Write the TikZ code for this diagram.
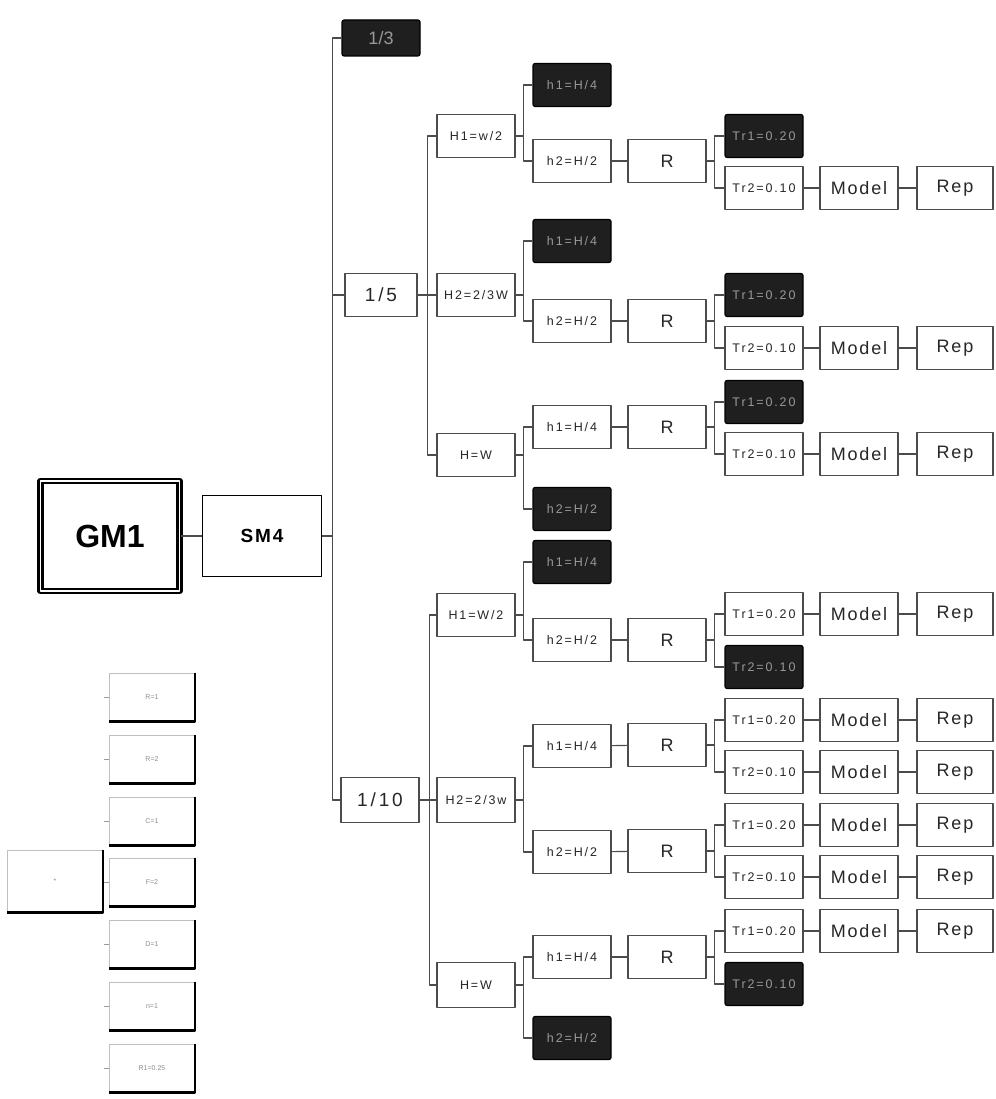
\documentclass[tikz,border=0pt]{standalone}
\usepackage{fontspec}
\setmainfont{Liberation Sans}
\newfontfamily\spacedfont[LetterSpace=15]{Liberation Sans}
\newfontfamily\widefont[LetterSpace=10]{Liberation Sans}

\tikzset{
  box/.style={draw=black!70, line width=1.1pt, fill=white, text=black!85,
    minimum width=78, minimum height=43, inner sep=0pt,
    font=\spacedfont\fontsize{12.5}{15}\selectfont},
  bigbox/.style={box, font=\widefont\fontsize{18}{22}\selectfont},
  ratiobox/.style={box, font=\spacedfont\fontsize{19}{23}\selectfont},
  cutbox/.style={box, draw=black, fill=black!88, text=black!40, rounded corners=2pt},
  link/.style={draw=black!70, line width=1.1pt},
  keybox/.style={draw=black!25, line width=0.6pt, minimum width=85, minimum height=48,
    inner sep=0pt, text=black!45, font=\fontsize{7}{8}\selectfont},
  keyedge/.style={line width=2.6pt, line cap=butt},
  stub/.style={draw=black!40, line width=0.6pt}
}

\begin{document}
\begin{tikzpicture}[x=1pt, y=-1pt, line join=round]

  %% ════ root and ratios ════
  \node[draw=black, line width=2.6pt, double, double distance=1.6pt, minimum width=139, minimum height=110,
        font=\bfseries\fontsize{32}{38}\selectfont] (gm1) at (110,536) {GM1};
  \node[draw=black, line width=1.6pt, minimum width=119, minimum height=81,
        font=\widefont\bfseries\fontsize{19}{23}\selectfont] (sm4) at (262,536) {SM4};
  \node[cutbox, minimum height=36, font=\fontsize{18}{22}\selectfont] (r3) at (381,38) {1/3};
  \node[ratiobox, minimum width=72] (r5) at (381,295) {1/5};
  \node[ratiobox, minimum height=45] (r10) at (380,800) {1/10};

  %% ════ 1/5 branch ════
  \node[box] (a1) at (476,136) {H1=w/2};
  \node[box] (a2) at (476,295) {H2=2/3W};
  \node[box] (a3) at (476,455) {H=W};

  \node[cutbox] (a1h1) at (572,85) {h1=H/4};
  \node[box] (a1h2) at (572,161) {h2=H/2};
  \node[cutbox] (a2h1) at (572,241) {h1=H/4};
  \node[box] (a2h2) at (572,321) {h2=H/2};
  \node[box] (a3h1) at (572,427) {h1=H/4};
  \node[cutbox] (a3h2) at (572,509) {h2=H/2};

  \node[bigbox] (a1r) at (667,161) {R};
  \node[bigbox] (a2r) at (667,321) {R};
  \node[bigbox] (a3r) at (667,427) {R};

  \node[cutbox] (a1t1) at (764,136) {Tr1=0.20};
  \node[box] (a1t2) at (764,188) {Tr2=0.10};
  \node[cutbox] (a2t1) at (764,295) {Tr1=0.20};
  \node[box] (a2t2) at (764,348) {Tr2=0.10};
  \node[cutbox] (a3t1) at (764,402) {Tr1=0.20};
  \node[box] (a3t2) at (764,454) {Tr2=0.10};

  \node[bigbox] (a1m) at (859,188) {Model};
  \node[bigbox] (a2m) at (859,348) {Model};
  \node[bigbox] (a3m) at (859,454) {Model};
  \node[bigbox, minimum width=76] (a1p) at (955,188) {Rep};
  \node[bigbox, minimum width=76] (a2p) at (955,348) {Rep};
  \node[bigbox, minimum width=76] (a3p) at (955,454) {Rep};

  %% ════ 1/10 branch ════
  \node[box] (b1) at (476,615) {H1=W/2};
  \node[box, minimum height=45] (b2) at (476,800) {H2=2/3w};
  \node[box, minimum height=45] (b3) at (476,985) {H=W};

  \node[cutbox] (b1h1) at (572,562) {h1=H/4};
  \node[box] (b1h2) at (572,640) {h2=H/2};
  \node[box] (b2h1) at (572,746) {h1=H/4};
  \node[box] (b2h2) at (572,852) {h2=H/2};
  \node[box] (b3h1) at (572,957) {h1=H/4};
  \node[cutbox] (b3h2) at (572,1038) {h2=H/2};

  \node[bigbox] (b1r) at (667,640) {R};
  \node[bigbox] (b2r1) at (667,745) {R};
  \node[bigbox] (b2r2) at (667,851) {R};
  \node[bigbox] (b3r) at (667,957) {R};

  \node[box] (b1t1) at (764,614) {Tr1=0.20};
  \node[cutbox] (b1t2) at (764,667) {Tr2=0.10};
  \node[box] (b2t1) at (764,720) {Tr1=0.20};
  \node[box] (b2t2) at (764,772) {Tr2=0.10};
  \node[box] (b2t3) at (764,825) {Tr1=0.20};
  \node[box] (b2t4) at (764,877) {Tr2=0.10};
  \node[box] (b3t1) at (764,931) {Tr1=0.20};
  \node[cutbox] (b3t2) at (764,984) {Tr2=0.10};

  \node[bigbox] (b1m) at (859,614) {Model};
  \node[bigbox] (b2m1) at (859,720) {Model};
  \node[bigbox] (b2m2) at (859,772) {Model};
  \node[bigbox] (b2m3) at (859,825) {Model};
  \node[bigbox] (b2m4) at (859,877) {Model};
  \node[bigbox] (b3m) at (859,931) {Model};
  \node[bigbox, minimum width=76] (b1p) at (955,614) {Rep};
  \node[bigbox, minimum width=76] (b2p1) at (955,720) {Rep};
  \node[bigbox, minimum width=76] (b2p2) at (955,772) {Rep};
  \node[bigbox, minimum width=76] (b2p3) at (955,825) {Rep};
  \node[bigbox, minimum width=76] (b2p4) at (955,877) {Rep};
  \node[bigbox, minimum width=76] (b3p) at (955,931) {Rep};

  %% ════ connectors ════
  \draw[link] (gm1.east) -- (sm4.west);
  \draw[link] (sm4.east) -- ++(10,0) |- (r3.west);
  \draw[link] (sm4.east) -- ++(10,0) |- (r5.west);
  \draw[link] (sm4.east) -- ++(10,0) |- (r10.west);

  \draw[link] (r5.east) -- ++(10,0) |- (a1.west);
  \draw[link] (r5.east) -- ++(10,0) |- (a2.west);
  \draw[link] (r5.east) -- ++(10,0) |- (a3.west);
  \draw[link] (a1.east) -- ++(8,0) |- (a1h1.west);
  \draw[link] (a1.east) -- ++(8,0) |- (a1h2.west);
  \draw[link] (a2.east) -- ++(8,0) |- (a2h1.west);
  \draw[link] (a2.east) -- ++(8,0) |- (a2h2.west);
  \draw[link] (a3.east) -- ++(8,0) |- (a3h1.west);
  \draw[link] (a3.east) -- ++(8,0) |- (a3h2.west);
  \draw[link] (a1h2) -- (a1r);
  \draw[link] (a2h2) -- (a2r);
  \draw[link] (a3h1) -- (a3r);
  \draw[link] (a1r.east) -- ++(8,0) |- (a1t1.west);
  \draw[link] (a1r.east) -- ++(8,0) |- (a1t2.west);
  \draw[link] (a2r.east) -- ++(8,0) |- (a2t1.west);
  \draw[link] (a2r.east) -- ++(8,0) |- (a2t2.west);
  \draw[link] (a3r.east) -- ++(8,0) |- (a3t1.west);
  \draw[link] (a3r.east) -- ++(8,0) |- (a3t2.west);
  \draw[link] (a1t2) -- (a1m) -- (a1p);
  \draw[link] (a2t2) -- (a2m) -- (a2p);
  \draw[link] (a3t2) -- (a3m) -- (a3p);

  \draw[link] (r10.east) -- ++(10,0) |- (b1.west);
  \draw[link] (r10.east) -- ++(10,0) |- (b2.west);
  \draw[link] (r10.east) -- ++(10,0) |- (b3.west);
  \draw[link] (b1.east) -- ++(8,0) |- (b1h1.west);
  \draw[link] (b1.east) -- ++(8,0) |- (b1h2.west);
  \draw[link] (b2.east) -- ++(8,0) |- (b2h1.west);
  \draw[link] (b2.east) -- ++(8,0) |- (b2h2.west);
  \draw[link] (b3.east) -- ++(8,0) |- (b3h1.west);
  \draw[link] (b3.east) -- ++(8,0) |- (b3h2.west);
  \draw[link] (b1h2) -- (b1r);
  \draw[link] (b2h1) -- (b2r1);
  \draw[link] (b2h2) -- (b2r2);
  \draw[link] (b3h1) -- (b3r);
  \draw[link] (b1r.east) -- ++(8,0) |- (b1t1.west);
  \draw[link] (b1r.east) -- ++(8,0) |- (b1t2.west);
  \draw[link] (b2r1.east) -- ++(8,0) |- (b2t1.west);
  \draw[link] (b2r1.east) -- ++(8,0) |- (b2t2.west);
  \draw[link] (b2r2.east) -- ++(8,0) |- (b2t3.west);
  \draw[link] (b2r2.east) -- ++(8,0) |- (b2t4.west);
  \draw[link] (b3r.east) -- ++(8,0) |- (b3t1.west);
  \draw[link] (b3r.east) -- ++(8,0) |- (b3t2.west);
  \draw[link] (b1t1) -- (b1m) -- (b1p);
  \draw[link] (b2t1) -- (b2m1) -- (b2p1);
  \draw[link] (b2t2) -- (b2m2) -- (b2p2);
  \draw[link] (b2t3) -- (b2m3) -- (b2p3);
  \draw[link] (b2t4) -- (b2m4) -- (b2p4);
  \draw[link] (b3t1) -- (b3m) -- (b3p);

  %% ════ key (bottom left) ════
  \node[keybox, minimum width=95, minimum height=62] (k0) at (55,881) {*};
  \node[keybox] (k1) at (152,697) {R=1};
  \node[keybox] (k2) at (152,759) {R=2};
  \node[keybox] (k3) at (152,821) {C=1};
  \node[keybox] (k4) at (152,882) {F=2};
  \node[keybox] (k5) at (152,944) {D=1};
  \node[keybox] (k6) at (152,1006) {n=1};
  \node[keybox] (k7) at (152,1068) {R1=0.25};
  \draw[keyedge] (k0.north east) -- (k0.south east) -- (k0.south west);
  \draw[keyedge] (k1.north east) -- (k1.south east) -- (k1.south west);
  \draw[keyedge] (k2.north east) -- (k2.south east) -- (k2.south west);
  \draw[keyedge] (k3.north east) -- (k3.south east) -- (k3.south west);
  \draw[keyedge] (k4.north east) -- (k4.south east) -- (k4.south west);
  \draw[keyedge] (k5.north east) -- (k5.south east) -- (k5.south west);
  \draw[keyedge] (k6.north east) -- (k6.south east) -- (k6.south west);
  \draw[keyedge] (k7.north east) -- (k7.south east) -- (k7.south west);
  \draw[stub] (k1.west) -- ++(-5,0);
  \draw[stub] (k2.west) -- ++(-5,0);
  \draw[stub] (k3.west) -- ++(-5,0);
  \draw[stub] (k4.west) -- ++(-5,0);
  \draw[stub] (k5.west) -- ++(-5,0);
  \draw[stub] (k6.west) -- ++(-5,0);
  \draw[stub] (k7.west) -- ++(-5,0);

  % fix the canvas to the reference size
  \pgfresetboundingbox
  \path[use as bounding box] (0,0) rectangle (995,1099);
\end{tikzpicture}
\end{document}
